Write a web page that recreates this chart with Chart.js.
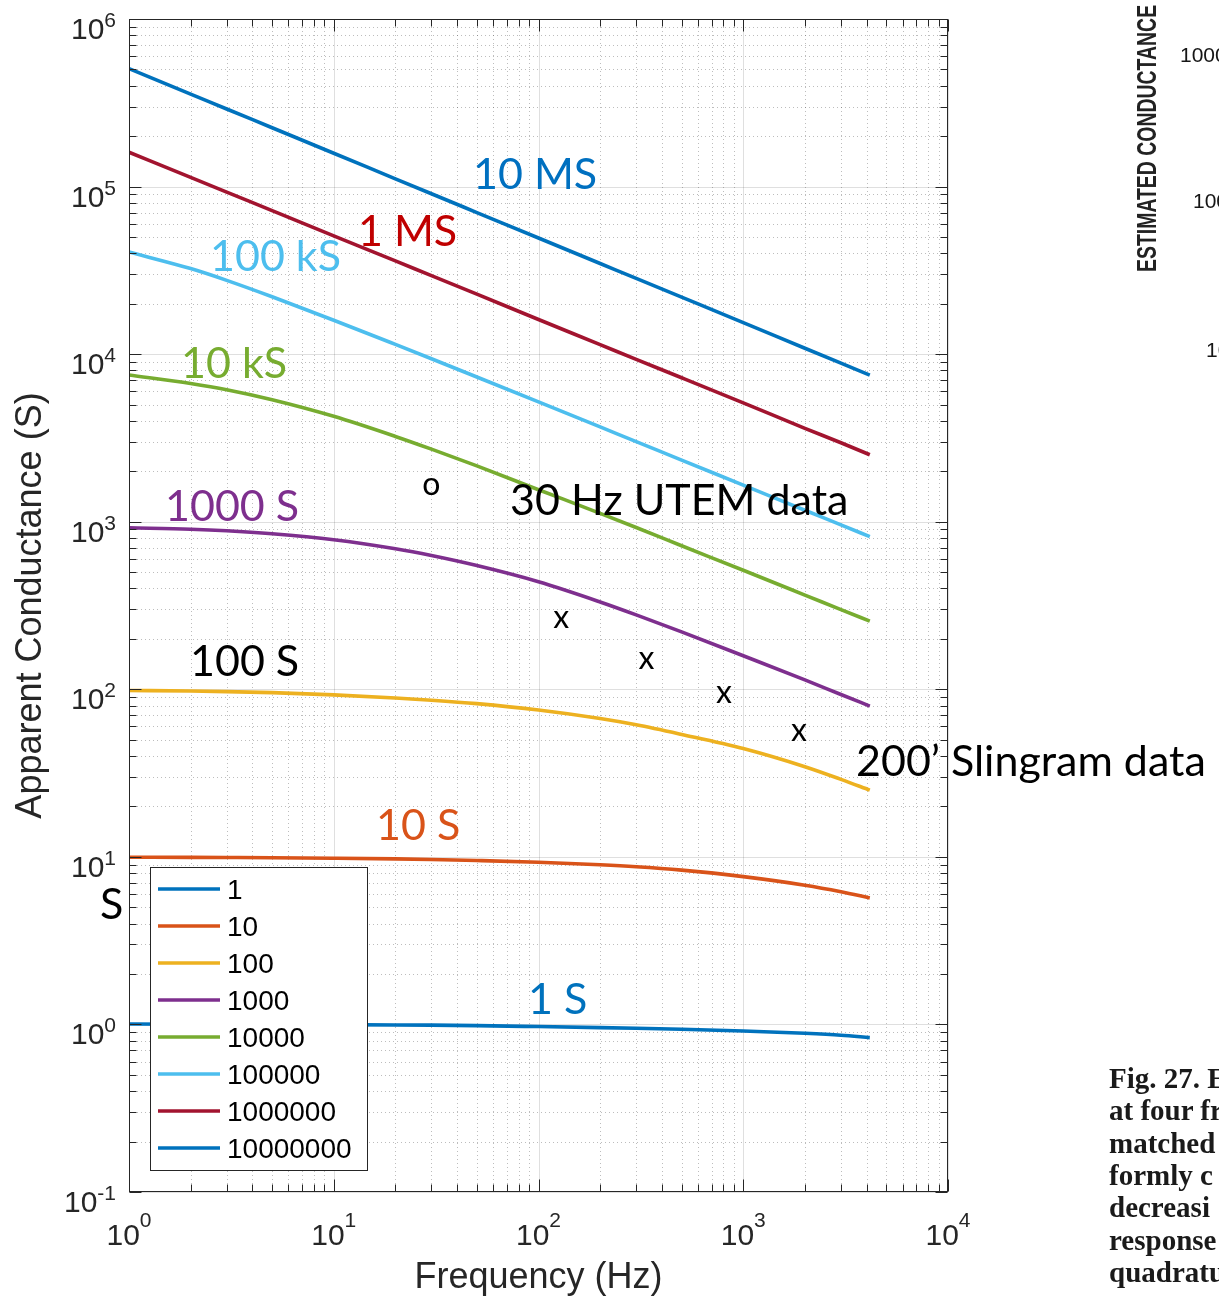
<!DOCTYPE html>
<html>
<head>
<meta charset="utf-8">
<script src="https://cdn.jsdelivr.net/npm/chart.js@4.4.1/dist/chart.umd.min.js"></script>
<style>
html,body{margin:0;padding:0;background:#fff;}
#wrap{position:relative;width:1219px;height:1296px;overflow:hidden;background:#fff;}
#c{position:absolute;left:0;top:0;}
.side{position:absolute;white-space:nowrap;line-height:1;color:#161616;}
.num{font-family:"Liberation Sans",Arial,sans-serif;font-size:21px;}
.cap{font-family:"Liberation Serif","Times New Roman",serif;font-size:29px;font-weight:bold;color:#1a1a1a;}
</style>
</head>
<body>
<div id="wrap">
<canvas id="c" width="1219" height="1296"></canvas>
<div class="side" id="est" style="left:1134px;top:272px;font-family:'Liberation Sans',Arial,sans-serif;font-size:27px;font-weight:bold;color:#222;transform-origin:0 0;transform:rotate(-90deg) scaleX(0.72);">ESTIMATED CONDUCTANCE</div>
<div class="side num" style="left:1180px;top:44px;">1000</div>
<div class="side num" style="left:1193px;top:190px;">100</div>
<div class="side num" style="left:1206px;top:339px;">10</div>
<div class="side cap" style="left:1109px;top:1064px;">Fig. 27. E</div>
<div class="side cap" style="left:1109px;top:1096px;">at four fr</div>
<div class="side cap" style="left:1109px;top:1129px;">matched</div>
<div class="side cap" style="left:1109px;top:1161px;">formly c</div>
<div class="side cap" style="left:1109px;top:1193px;">decreasi</div>
<div class="side cap" style="left:1109px;top:1226px;">response</div>
<div class="side cap" style="left:1109px;top:1258px;">quadratu</div>
</div>
<script>
// ---------------- data ----------------
const frequencyHz = [1, 2, 3, 5, 10, 20, 30, 50, 100, 200, 300, 500, 1000, 2000, 3000, 4150];
const sheetConductances = ['1', '10', '100', '1000', '10000', '100000', '1000000', '10000000'];

const apparent_1S     = [1.005, 1.003, 1.002, 1.0, 0.997, 0.993, 0.99, 0.984, 0.971, 0.957, 0.948, 0.936, 0.914, 0.885, 0.862, 0.834];
const apparent_10S    = [9.95, 9.93, 9.91, 9.88, 9.81, 9.72, 9.64, 9.51, 9.29, 8.97, 8.73, 8.33, 7.62, 6.77, 6.19, 5.69];
const apparent_100S   = [98.4, 97.7, 96.9, 95.5, 92.6, 88.8, 86.1, 82.1, 75.2, 66.9, 61.4, 53.8, 44.3, 34.5, 29.0, 25.0];
const apparent_1kS    = [920, 902, 883, 847, 780, 689, 628, 547, 438, 332, 278, 220, 158.5, 113.8, 93.1, 79.4];
const apparent_10kS   = [7516, 6683, 6138, 5346, 4256, 3228, 2710, 2153, 1552, 1122, 923, 719, 513, 365, 299, 255];
const apparent_100kS  = [40700, 32400, 27560, 22000, 15940, 11430, 9385, 7305, 5192, 3678, 3007, 2332, 1653, 1171, 957.5, 814.7];
const apparent_1MS    = [160300, 113500, 92700, 71800, 50800, 36000, 29400, 22800, 16100, 11400, 9310, 7230, 5120, 3610, 2960, 2510];
const apparent_10MS   = [505800, 356500, 290400, 224400, 158100, 111200, 90570, 69980, 49320, 34750, 28310, 21880, 15420, 10840, 8831, 7499];

const slingramFreq = [129, 337, 804, 1870];
const slingramCond = [260, 147, 92.7, 55.2];
const utemFreq = [30];
const utemCond = [1620];

const xTickExponents = [0, 1, 2, 3, 4];
const yTickExponents = [-1, 0, 1, 2, 3, 4, 5, 6];

// ---------------- styles ----------------
const seriesValues = [apparent_1S, apparent_10S, apparent_100S, apparent_1kS, apparent_10kS, apparent_100kS, apparent_1MS, apparent_10MS];
const lineColors = ['#0072BD', '#D95319', '#EDB120', '#7E2F8E', '#77AC30', '#4DBEEE', '#A2142F', '#0072BD'];
const AX = '#262626';
const SANS = '"Liberation Sans", Arial, Helvetica, sans-serif';
const CAL = 'Lato, "Open Sans", sans-serif';

const annotations = [
  {text: '10 MS', x: 473, y: 189, color: '#0070C0'},
  {text: '1 MS', x: 358, y: 246, color: '#C00000'},
  {text: '100 kS', x: 210, y: 271, color: '#4DBEEE'},
  {text: '10 kS', x: 181, y: 378, color: '#77AC30'},
  {text: '1000 S', x: 165, y: 521, color: '#7E2F8E'},
  {text: '100 S', x: 190, y: 676, color: '#000000'},
  {text: '10 S', x: 376, y: 840, color: '#D95319'},
  {text: '1 S', x: 528, y: 1014, color: '#0072BD'},
  {text: '30 Hz UTEM data', x: 510, y: 515, color: '#000000'},
  {text: '200\u2019 Slingram data', x: 856, y: 776, color: '#000000'},
  {text: 'S', x: 100, y: 919, color: '#000000'}
];

const datasets = sheetConductances.map((lab, i) => ({
  label: lab,
  data: frequencyHz.map((f, j) => ({x: f, y: seriesValues[i][j]})),
  borderColor: lineColors[i],
  backgroundColor: lineColors[i],
  borderWidth: 3.6,
  pointRadius: 0,
  fill: false,
  cubicInterpolationMode: 'monotone'
}));
datasets.push({
  label: 'Slingram', marker: 'x', showLine: false, pointRadius: 0,
  data: slingramFreq.map((f, j) => ({x: f, y: slingramCond[j]}))
});
datasets.push({
  label: 'UTEM', marker: 'o', showLine: false, pointRadius: 0,
  data: utemFreq.map((f, j) => ({x: f, y: utemCond[j]}))
});

function decadeValues(minExp, maxExp) {
  const major = [], minor = [];
  for (let e = minExp; e <= maxExp; e++) {
    major.push(Math.pow(10, e));
    if (e < maxExp) for (let k = 2; k <= 9; k++) minor.push(k * Math.pow(10, e));
  }
  return {major, minor};
}

const matlabPlugin = {
  id: 'matlab',
  beforeDatasetsDraw(chart) {
    const {ctx, chartArea: a, scales: {x, y}} = chart;
    const xv = decadeValues(0, 4), yv = decadeValues(-1, 6);
    ctx.save();
    ctx.lineWidth = 1;
    ctx.strokeStyle = 'rgba(38,38,38,0.30)';
    ctx.setLineDash([1, 3]);
    ctx.beginPath();
    xv.minor.forEach(v => { const p = Math.round(x.getPixelForValue(v)) + 0.5; ctx.moveTo(p, a.top); ctx.lineTo(p, a.bottom); });
    yv.minor.forEach(v => { const p = Math.round(y.getPixelForValue(v)) + 0.5; ctx.moveTo(a.left, p); ctx.lineTo(a.right, p); });
    ctx.stroke();
    ctx.setLineDash([]);
    ctx.strokeStyle = 'rgba(38,38,38,0.15)';
    ctx.beginPath();
    xv.major.forEach(v => { const p = Math.round(x.getPixelForValue(v)) + 0.5; ctx.moveTo(p, a.top); ctx.lineTo(p, a.bottom); });
    yv.major.forEach(v => { const p = Math.round(y.getPixelForValue(v)) + 0.5; ctx.moveTo(a.left, p); ctx.lineTo(a.right, p); });
    ctx.stroke();
    ctx.restore();
  },
  afterDatasetsDraw(chart) {
    const {ctx, chartArea: a, scales: {x, y}} = chart;
    const xv = decadeValues(0, 4), yv = decadeValues(-1, 6);
    ctx.save();
    ctx.strokeStyle = AX;
    ctx.lineWidth = 1;
    const L = a.left + 0.5, R = a.right - 0.5, T = a.top + 0.5, B = a.bottom - 0.5;
    ctx.strokeRect(L, T, R - L, B - T);
    ctx.beginPath();
    const tk = (vals, len) => {
      vals.forEach(v => {
        const px = Math.round(x.getPixelForValue(v)) + 0.5;
        ctx.moveTo(px, B); ctx.lineTo(px, B - len); ctx.moveTo(px, T); ctx.lineTo(px, T + len);
      });
    };
    tk(xv.major, 12); tk(xv.minor, 7);
    const tky = (vals, len) => {
      vals.forEach(v => {
        const py = Math.round(y.getPixelForValue(v)) + 0.5;
        ctx.moveTo(L, py); ctx.lineTo(L + len, py); ctx.moveTo(R, py); ctx.lineTo(R - len, py);
      });
    };
    tky(yv.major, 12); tky(yv.minor, 7);
    ctx.stroke();

    ctx.fillStyle = AX;
    ctx.textBaseline = 'alphabetic';
    ctx.textAlign = 'left';
    const bigF = '30px ' + SANS, supF = '21px ' + SANS;
    yTickExponents.forEach(e => {
      const py = y.getPixelForValue(Math.pow(10, e));
      ctx.font = bigF; const w1 = ctx.measureText('10').width;
      ctx.font = supF; const w2 = ctx.measureText(String(e)).width;
      const x0 = 116 - w1 - w2;
      ctx.font = bigF; ctx.fillText('10', x0, py + 20);
      ctx.font = supF; ctx.fillText(String(e), x0 + w1, py + 8);
    });
    xTickExponents.forEach(e => {
      const px = x.getPixelForValue(Math.pow(10, e));
      ctx.font = bigF; const w1 = ctx.measureText('10').width;
      ctx.font = supF; const w2 = ctx.measureText(String(e)).width;
      const x0 = px - (w1 + w2) / 2;
      ctx.font = bigF; ctx.fillText('10', x0, 1245);
      ctx.font = supF; ctx.fillText(String(e), x0 + w1, 1227);
    });

    ctx.font = '36px ' + SANS;
    ctx.textAlign = 'center';
    ctx.fillText('Frequency (Hz)', (a.left + a.right) / 2, 1288);
    ctx.save();
    ctx.translate(41, (a.top + a.bottom) / 2);
    ctx.rotate(-Math.PI / 2);
    ctx.fillText('Apparent Conductance (S)', 0, 0);
    ctx.restore();

    // legend
    const lx = 150, ly = 867, lw = 217, lh = 303;
    ctx.fillStyle = '#ffffff';
    ctx.fillRect(lx, ly, lw, lh);
    ctx.strokeStyle = AX;
    ctx.lineWidth = 1;
    ctx.strokeRect(lx + 0.5, ly + 0.5, lw, lh);
    ctx.font = '28px ' + SANS;
    ctx.textAlign = 'left';
    let row = 0;
    chart.data.datasets.forEach(ds => {
      if (ds.marker) return;
      const cy = 889 + row * 37;
      ctx.strokeStyle = ds.borderColor;
      ctx.lineWidth = 3.6;
      ctx.beginPath(); ctx.moveTo(158, cy); ctx.lineTo(220, cy); ctx.stroke();
      ctx.fillStyle = '#000';
      ctx.fillText(ds.label, 227, cy + 10);
      row++;
    });

    // data markers drawn as letters at their scale positions
    ctx.fillStyle = '#000';
    ctx.textAlign = 'center';
    ctx.font = '32px ' + CAL;
    chart.data.datasets.forEach((ds, i) => {
      if (!ds.marker) return;
      chart.getDatasetMeta(i).data.forEach(pt => {
        ctx.fillText(ds.marker, pt.x, pt.y + 8);
      });
    });

    // annotations
    ctx.textAlign = 'left';
    ctx.font = '43px ' + CAL;
    annotations.forEach(an => {
      ctx.fillStyle = an.color;
      ctx.fillText(an.text, an.x, an.y);
    });
    ctx.restore();
  }
};

new Chart(document.getElementById('c').getContext('2d'), {
  type: 'line',
  data: {datasets},
  options: {
    responsive: false,
    animation: false,
    devicePixelRatio: 1,
    layout: {padding: {left: 129, top: 19, right: 271, bottom: 104}},
    scales: {
      x: {type: 'logarithmic', min: 1, max: 10000, display: false},
      y: {type: 'logarithmic', min: 0.1, max: 1000000, display: false}
    },
    plugins: {legend: {display: false}, tooltip: {enabled: false}, title: {display: false}},
    elements: {point: {radius: 0}}
  },
  plugins: [matlabPlugin]
});
</script>
</body>
</html>
